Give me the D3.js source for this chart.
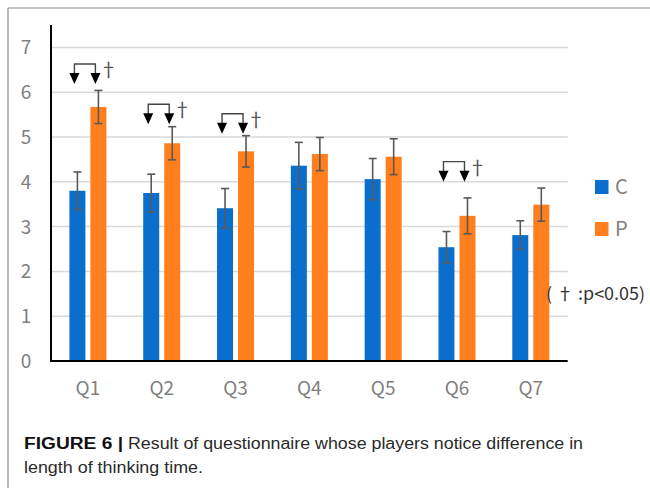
<!DOCTYPE html>
<html>
<head>
<meta charset="utf-8">
<script src="https://cdn.jsdelivr.net/npm/d3@7/dist/d3.min.js"></script>
<style>
  html, body { margin: 0; padding: 0; background: #fff; }
  svg { display: block; }
</style>
</head>
<body>
<svg id="chart" width="650" height="488"></svg>
<script>
// Questionnaire items
const questions = ["Q1", "Q2", "Q3", "Q4", "Q5", "Q6", "Q7"];
// Series keys
const seriesKeys = ["C", "P"];
// Mean scores
const meanC = [3.80, 3.75, 3.41, 4.36, 4.06, 2.54, 2.81];
const meanP = [5.67, 4.86, 4.68, 4.62, 4.56, 3.24, 3.49];
// Error bar half-widths
const errC = [0.42, 0.42, 0.44, 0.52, 0.46, 0.35, 0.32];
const errP = [0.37, 0.37, 0.35, 0.37, 0.40, 0.40, 0.37];
// Items with a significant difference and the level of their bracket
const sigItems = ["Q1", "Q2", "Q3", "Q6"];
const sigLevel = [6.63, 5.73, 5.52, 4.45];
// Axis ticks
const yTicks = [0, 1, 2, 3, 4, 5, 6, 7];

const colors = { C: "#0a6fcc", P: "#ff7f1e" };

const svg = d3.select("#chart");

// Figure frame
svg.append("line").attr("x1", 8).attr("x2", 8).attr("y1", 8).attr("y2", 488)
  .attr("stroke", "#8a8a8a").attr("stroke-width", 1.2);
svg.append("line").attr("x1", 8).attr("x2", 650).attr("y1", 8).attr("y2", 8)
  .attr("stroke", "#8a8a8a").attr("stroke-width", 1.2);

const x0 = d3.scaleBand().domain(questions).range([51, 567.7]).padding(0);
const x1 = d3.scaleBand().domain(seriesKeys).range([-18.5, 18.5]).paddingInner(0.238).paddingOuter(0);
const y = d3.scaleLinear().domain([0, 7.5]).range([361, 25]);

// Gridlines
svg.append("g").selectAll("line").data(yTicks.filter(d => d > 0)).join("line")
  .attr("x1", 51).attr("x2", 567.7)
  .attr("y1", d => y(d)).attr("y2", d => y(d))
  .attr("stroke", "#d9d9d9").attr("stroke-width", 1.5);

// Y tick labels
svg.append("g").selectAll("text").data(yTicks).join("text")
  .attr("x", 26).attr("y", d => y(d) + 7)
  .attr("text-anchor", "middle")
  .attr("font-family", "'Noto Sans CJK JP', 'Noto Sans', sans-serif")
  .attr("font-size", 19).attr("fill", "#7f7f7f")
  .text(d => d);

const rows = questions.map((q, i) => ({
  q,
  C: { v: meanC[i], e: errC[i] },
  P: { v: meanP[i], e: errP[i] }
}));

const groups = svg.append("g").selectAll("g").data(rows).join("g")
  .attr("transform", d => `translate(${x0(d.q) + x0.bandwidth() / 2},0)`);

// Bars
groups.selectAll("rect").data(d => seriesKeys.map(k => ({ k, v: d[k].v }))).join("rect")
  .attr("x", d => x1(d.k)).attr("width", x1.bandwidth())
  .attr("y", d => y(d.v)).attr("height", d => y(0) - y(d.v))
  .attr("fill", d => colors[d.k]);

// Error bars
const eb = groups.selectAll("g.err").data(d => seriesKeys.map(k => ({ k, v: d[k].v, e: d[k].e }))).join("g")
  .attr("class", "err")
  .attr("transform", d => `translate(${x1(d.k) + x1.bandwidth() / 2},0)`);
eb.append("line").attr("x1", 0).attr("x2", 0)
  .attr("y1", d => y(d.v + d.e)).attr("y2", d => y(d.v - d.e))
  .attr("stroke", "#595959").attr("stroke-width", 1.6);
eb.append("line").attr("x1", -4).attr("x2", 4)
  .attr("y1", d => y(d.v + d.e)).attr("y2", d => y(d.v + d.e))
  .attr("stroke", "#595959").attr("stroke-width", 1.6);
eb.append("line").attr("x1", -4).attr("x2", 4)
  .attr("y1", d => y(d.v - d.e)).attr("y2", d => y(d.v - d.e))
  .attr("stroke", "#595959").attr("stroke-width", 1.6);

// Axes lines
svg.append("line").attr("x1", 51).attr("x2", 51).attr("y1", 25).attr("y2", 361)
  .attr("stroke", "#000").attr("stroke-width", 2);
svg.append("line").attr("x1", 50).attr("x2", 567.7).attr("y1", 361).attr("y2", 361)
  .attr("stroke", "#000").attr("stroke-width", 2);

// Category labels
svg.append("g").selectAll("text").data(questions).join("text")
  .attr("x", d => x0(d) + x0.bandwidth() / 2).attr("y", 395)
  .attr("text-anchor", "middle")
  .attr("font-family", "'Noto Sans CJK JP', 'Noto Sans', sans-serif")
  .attr("font-size", 19).attr("fill", "#7f7f7f")
  .text(d => d);

// Significance brackets with arrows
const sig = svg.append("g").selectAll("g").data(sigItems.map((q, i) => ({ q, lvl: sigLevel[i] }))).join("g")
  .attr("transform", d => `translate(${x0(d.q) + x0.bandwidth() / 2},${y(d.lvl)})`);
const ax = k => x1(k) + x1.bandwidth() / 2 - 3;
sig.append("path")
  .attr("d", `M${ax("C")},10 V0 H${ax("P")} V10`)
  .attr("fill", "none").attr("stroke", "#444").attr("stroke-width", 1.4);
sig.selectAll("path.head").data(seriesKeys).join("path")
  .attr("class", "head")
  .attr("d", k => `M${ax(k) - 5},9 L${ax(k) + 5},9 L${ax(k)},20 Z`)
  .attr("fill", "#000");
sig.append("text")
  .attr("x", ax("P") + 13).attr("y", 13)
  .attr("text-anchor", "middle")
  .attr("font-family", "'Noto Sans CJK JP', sans-serif")
  .attr("font-size", 19).attr("fill", "#555")
  .text("†");

// Legend
const legend = svg.append("g").selectAll("g").data(seriesKeys).join("g")
  .attr("transform", (d, i) => `translate(595,${180 + i * 42})`);
legend.append("rect").attr("width", 13.5).attr("height", 14).attr("fill", d => colors[d]);
legend.append("text").attr("x", 20).attr("y", 14)
  .attr("font-family", "'Noto Sans CJK JP', 'Noto Sans', sans-serif")
  .attr("font-size", 20).attr("fill", "#7f7f7f")
  .text(d => d);

// Significance note
svg.append("text").attr("x", 546).attr("y", 300)
  .attr("font-family", "'Noto Sans CJK JP', sans-serif")
  .attr("font-size", 17.5).attr("fill", "#333")
  .attr("textLength", 99).attr("lengthAdjust", "spacingAndGlyphs")
  .text("( † :p<0.05)");

// Caption
const capFont = "'Liberation Sans', Arial, sans-serif";
svg.append("text").attr("x", 24).attr("y", 449)
  .attr("font-family", capFont).attr("font-size", 16).attr("font-weight", "bold")
  .attr("fill", "#111").attr("textLength", 99).attr("lengthAdjust", "spacingAndGlyphs")
  .text("FIGURE 6 |");
svg.append("text").attr("x", 128).attr("y", 449)
  .attr("font-family", capFont).attr("font-size", 16)
  .attr("fill", "#2a2a2a").attr("textLength", 455).attr("lengthAdjust", "spacingAndGlyphs")
  .text("Result of questionnaire whose players notice difference in");
svg.append("text").attr("x", 24).attr("y", 473)
  .attr("font-family", capFont).attr("font-size", 16)
  .attr("fill", "#2a2a2a").attr("textLength", 179).attr("lengthAdjust", "spacingAndGlyphs")
  .text("length of thinking time.");
</script>
</body>
</html>
